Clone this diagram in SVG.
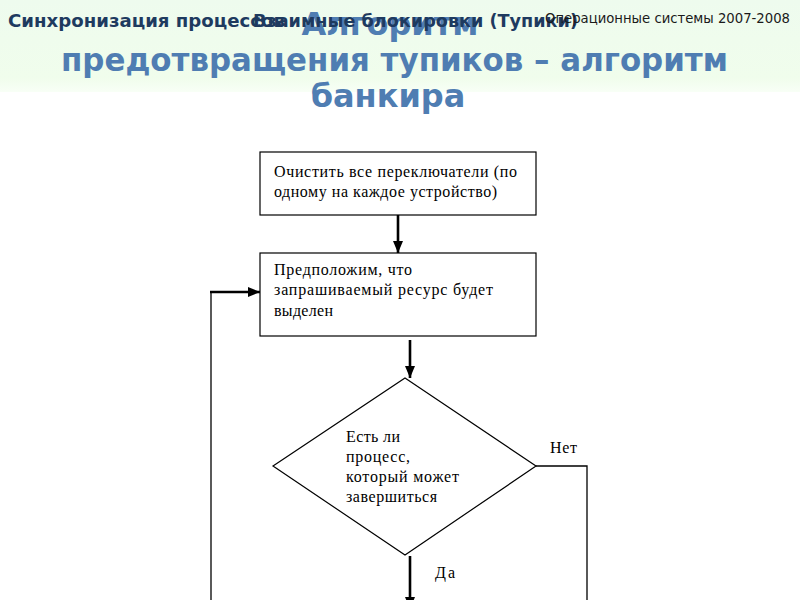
<svg xmlns="http://www.w3.org/2000/svg" width="800" height="600" viewBox="0 0 800 600">
<defs>
<linearGradient id="band" x1="0" y1="0" x2="0" y2="1">
<stop offset="0" stop-color="#eefbee"/>
<stop offset="0.85" stop-color="#f0fdec"/>
<stop offset="1" stop-color="#f8fff6"/>
</linearGradient>
<marker id="ah" viewBox="0 0 12 10" refX="12" refY="5" markerWidth="12" markerHeight="10" markerUnits="userSpaceOnUse" orient="auto">
<path d="M0,0 L12,5 L0,10 z" fill="#000"/>
</marker>
<style>
.hdr{font-family:"DejaVu Sans",sans-serif;font-weight:bold;font-size:18px;fill:#1e3a5f}
.sub{font-family:"DejaVu Sans",sans-serif;font-size:14px;fill:#1a1a1a}
.ttl{font-family:"DejaVu Sans",sans-serif;font-weight:bold;font-size:32px;fill:#4f7db2;text-anchor:middle}
.box{fill:#fff;stroke:#000;stroke-width:1.2}
.txt{font-family:"Liberation Serif","DejaVu Serif",serif;font-size:16px;fill:#000}
.thick{stroke:#000;stroke-width:2.6;fill:none}
.thin{stroke:#000;stroke-width:1.3;fill:none}
</style>
</defs>
<rect x="0" y="0" width="800" height="600" fill="#fff"/>
<rect x="0" y="0" width="800" height="92" fill="url(#band)"/>
<g id="title">
<text class="ttl" x="390" y="35">Алгоритм</text>
<text class="ttl" x="394.5" y="71" textLength="667" lengthAdjust="spacingAndGlyphs">предотвращения тупиков – алгоритм</text>
<text class="ttl" x="388" y="107">банкира</text>
</g>
<g id="header">
<text class="hdr" x="8" y="27" textLength="277" lengthAdjust="spacingAndGlyphs">Синхронизация процессов</text>
<text class="hdr" x="253" y="27" textLength="325" lengthAdjust="spacingAndGlyphs">Взаимные блокировки (Тупики)</text>
<text class="sub" x="545" y="23" textLength="245" lengthAdjust="spacingAndGlyphs">Операционные системы 2007-2008</text>
</g>
<g id="connectors">
<line class="thick" x1="398" y1="215" x2="398" y2="253" marker-end="url(#ah)"/>
<line class="thin" x1="211" y1="600" x2="211" y2="292"/>
<line class="thick" x1="210" y1="292" x2="260" y2="292" marker-end="url(#ah)"/>
<line class="thick" x1="410" y1="340" x2="410" y2="378" marker-end="url(#ah)"/>
<polyline class="thin" points="536,466 587,466 587,600"/>
<line class="thick" x1="410" y1="556" x2="410" y2="609" marker-end="url(#ah)"/>
<text class="txt" x="550" y="453" textLength="27">Нет</text>
<text class="txt" x="435" y="578" textLength="20">Да</text>
</g>
<g id="node-clear">
<rect class="box" x="260" y="152" width="276" height="63"/>
<text class="txt" x="274" y="177" textLength="243">Очистить все переключатели (по</text>
<text class="txt" x="274" y="197" textLength="223">одному на каждое устройство)</text>
</g>
<g id="node-assume">
<rect class="box" x="260" y="253" width="276" height="83"/>
<text class="txt" x="274" y="275" textLength="138">Предположим, что</text>
<text class="txt" x="274" y="295" textLength="219">запрашиваемый ресурс будет</text>
<text class="txt" x="274" y="316" textLength="59">выделен</text>
</g>
<g id="node-decision">
<polygon class="box" points="405,378 536,466 405,555 273,466"/>
<text class="txt" x="346" y="442" textLength="54">Есть ли</text>
<text class="txt" x="346" y="462" textLength="64">процесс,</text>
<text class="txt" x="346" y="482" textLength="113">который может</text>
<text class="txt" x="346" y="502" textLength="91">завершиться</text>
</g>
</svg>
